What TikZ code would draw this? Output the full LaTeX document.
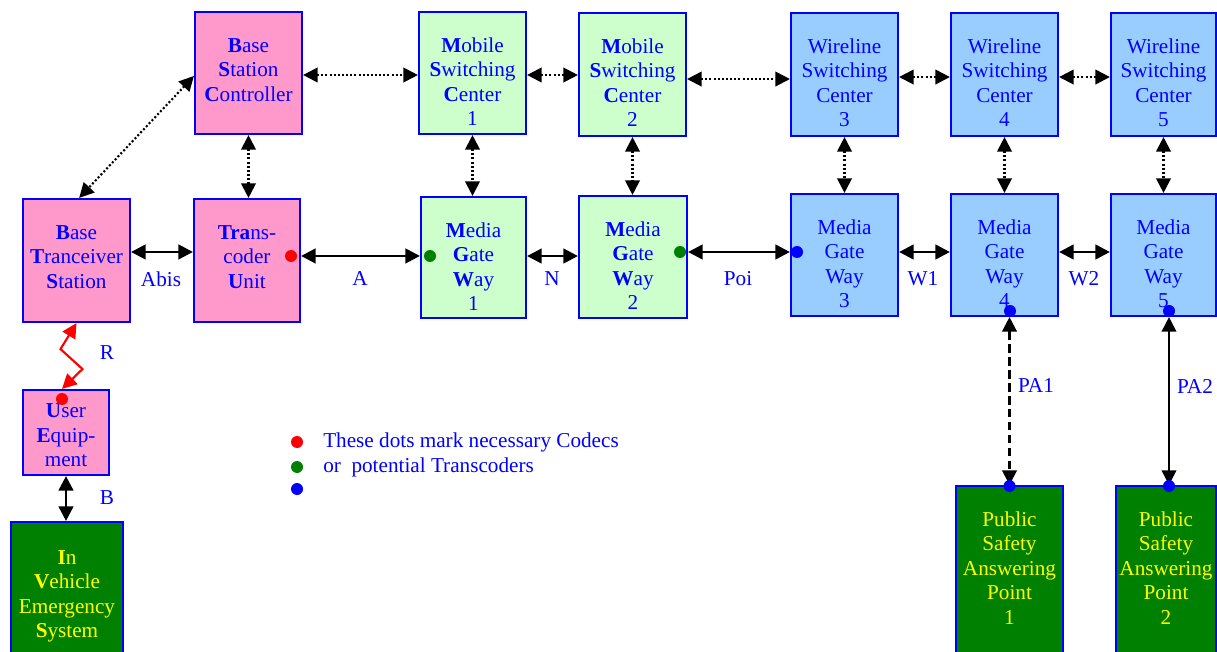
\documentclass[tikz,border=0pt]{standalone}
\usepackage{fontspec}
\setmainfont{Liberation Serif}
\usetikzlibrary{arrows.meta,calc}
\definecolor{pinkf}{HTML}{FF99CC}
\definecolor{greenf}{HTML}{CCFFCC}
\definecolor{bluef}{HTML}{99CCFF}
\definecolor{darkg}{HTML}{008000}
\definecolor{bord}{HTML}{0000FF}
\definecolor{tblue}{HTML}{0000FF}
\definecolor{tyel}{HTML}{FFFF00}
\newcommand{\mybox}[6]{%
  \node[box,fill=#6,minimum width={(#4-#2)*0.75pt},minimum height={(#5-#3)*0.75pt}] (#1) at ({(#2+#4)/2},{(#3+#5)/2}) {};}
\tikzset{
  box/.style={draw=bord,line width=1.6pt,inner sep=0pt,rectangle},
  txt/.style={align=center,inner sep=0pt,font=\fontsize{15.9}{18.4}\selectfont,text=tblue},
  ytxt/.style={txt,text=tyel},
  lbl/.style={inner sep=0pt,font=\fontsize{15.9}{18.4}\selectfont,text=tblue},
  solidarr/.style={{Triangle[length=11pt,width=11pt]}-{Triangle[length=11pt,width=11pt]},line width=2pt,black},
  dotarr/.style={solidarr,line width=1.6pt,dash pattern=on 1.5pt off 1.6pt},
  dasharr/.style={solidarr,line width=1.7pt,dash pattern=on 6.5pt off 3.2pt},
  thinarr/.style={solidarr,line width=1.4pt},
  redarr/.style={solidarr,red,line width=1.6pt},
  dot/.style={circle,fill=#1,inner sep=0pt,minimum size=9pt}
}
\begin{document}
\begin{tikzpicture}[x=0.75pt,y=-0.75pt]
\useasboundingbox (0,0) rectangle (1217,652);
% boxes
\mybox{bsc}{195}{12}{302}{134}{pinkf}
\mybox{bts}{23}{199}{130}{322}{pinkf}
\mybox{tcu}{194}{199}{300}{322}{pinkf}
\mybox{ue}{23}{390}{109}{475}{pinkf}
\mybox{msca}{419}{12}{526}{134}{greenf}
\mybox{mscb}{579}{13}{686}{136}{greenf}
\mybox{mgwa}{421}{197}{526}{318}{greenf}
\mybox{mgwb}{579}{196}{687}{318}{greenf}
\mybox{wsca}{791}{13}{898}{136}{bluef}
\mybox{wscb}{951}{13}{1058}{136}{bluef}
\mybox{wscc}{1111}{13}{1216}{136}{bluef}
\mybox{mgwc}{791}{194}{898}{316}{bluef}
\mybox{mgwd}{951}{194}{1058}{316}{bluef}
\mybox{mgwe}{1111}{194}{1216}{316}{bluef}
\mybox{ives}{11}{522}{123}{665}{darkg}
\mybox{psapa}{956}{486}{1063}{665}{darkg}
\mybox{psapb}{1116}{486}{1216}{665}{darkg}
% texts
\node[txt,anchor=north] (tbsc) at ([yshift=-18pt]bsc.north) {\strut\textbf{B}ase\\\textbf{S}tation\\\textbf{C}ontroller};
\node[txt,anchor=north] (tbts) at ([yshift=-18pt]bts.north) {\strut\textbf{B}ase\\\textbf{T}ranceiver\\\textbf{S}tation};
\node[txt,anchor=north] (ttcu) at ([yshift=-18pt]tcu.north) {\strut\textbf{Tra}ns-\\coder\\\textbf{U}nit};
\node[txt,anchor=north] (tue) at ([yshift=-8.5pt]ue.north) {\strut\textbf{U}ser\\\textbf{E}quip-\\ment};
\node[txt,anchor=north] (tmsca) at ([yshift=-18pt]msca.north) {\strut\textbf{M}obile\\\textbf{S}witching\\\textbf{C}enter\\1};
\node[txt,anchor=north] (tmscb) at ([yshift=-18pt]mscb.north) {\strut\textbf{M}obile\\\textbf{S}witching\\\textbf{C}enter\\2};
\node[txt,anchor=north] (tmgwa) at ([yshift=-18pt]mgwa.north) {\strut\textbf{M}edia\\\textbf{G}ate\\\textbf{W}ay\\1};
\node[txt,anchor=north] (tmgwb) at ([yshift=-18pt]mgwb.north) {\strut\textbf{M}edia\\\textbf{G}ate\\\textbf{W}ay\\2};
\node[txt,anchor=north] (twsca) at ([yshift=-18pt]wsca.north) {\strut Wireline\\Switching\\Center\\3};
\node[txt,anchor=north] (twscb) at ([yshift=-18pt]wscb.north) {\strut Wireline\\Switching\\Center\\4};
\node[txt,anchor=north] (twscc) at ([yshift=-18pt]wscc.north) {\strut Wireline\\Switching\\Center\\5};
\node[txt,anchor=north] (tmgwc) at ([yshift=-18pt]mgwc.north) {\strut Media\\Gate\\Way\\3};
\node[txt,anchor=north] (tmgwd) at ([yshift=-18pt]mgwd.north) {\strut Media\\Gate\\Way\\4};
\node[txt,anchor=north] (tmgwe) at ([yshift=-18pt]mgwe.north) {\strut Media\\Gate\\Way\\5};
\node[ytxt,anchor=north] (tives) at ([yshift=-19.5pt]ives.north) {\strut\textbf{I}n\\\textbf{V}ehicle\\Emergency\\\textbf{S}ystem};
\node[ytxt,anchor=north] (tpsapa) at ([yshift=-18pt]psapa.north) {\strut Public\\Safety\\Answering\\Point\\1};
\node[ytxt,anchor=north] (tpsapb) at ([yshift=-18pt]psapb.north) {\strut Public\\Safety\\Answering\\Point\\2};
% dotted connectors
\draw[dotarr] ([yshift=-1.5pt]bsc.east) -- ([yshift=-1.5pt]bsc.east -| msca.west);
\draw[dotarr] ([yshift=-1.5pt]msca.east) -- ([yshift=-1.5pt]msca.east -| mscb.west);
\draw[dotarr] ([yshift=-3.4pt]mscb.east) -- ([yshift=-3.4pt]mscb.east -| wsca.west);
\draw[dotarr] ([yshift=-1.9pt]wsca.east) -- ([yshift=-1.9pt]wsca.east -| wscb.west);
\draw[dotarr] ([yshift=-1.9pt]wscb.east) -- ([yshift=-1.9pt]wscb.east -| wscc.west);
\draw[dotarr] ([yshift=-2.25pt]bsc.west) -- ([xshift=2pt]bts.north);
\draw[dotarr] (bsc.south) -- (bsc.south |- tcu.north);
\draw[dotarr] (msca.south) -- (msca.south |- mgwa.north);
\draw[dotarr] (mscb.south) -- (mscb.south |- mgwb.north);
\draw[dotarr] (wsca.south) -- (wsca.south |- mgwc.north);
\draw[dotarr] (wscb.south) -- (wscb.south |- mgwd.north);
\draw[dotarr] (wscc.south) -- (wscc.south |- mgwe.north);
% solid connectors
\draw[solidarr] ([yshift=6.4pt]bts.east) -- ([yshift=6.4pt]bts.east -| tcu.west);
\draw[solidarr] ([yshift=3.4pt]tcu.east) -- ([yshift=3.4pt]tcu.east -| mgwa.west);
\draw[solidarr] ([yshift=1.1pt]mgwa.east) -- ([yshift=1.1pt]mgwa.east -| mgwb.west);
\draw[solidarr] ([yshift=3.75pt]mgwb.east) -- ([yshift=3.75pt]mgwb.east -| mgwc.west);
\draw[solidarr] ([yshift=2.25pt]mgwc.east) -- ([yshift=2.25pt]mgwc.east -| mgwd.west);
\draw[solidarr] ([yshift=2.25pt]mgwd.east) -- ([yshift=2.25pt]mgwd.east -| mgwe.west);
\draw[solidarr] (ue.south) -- (ue.south |- ives.north);
\draw[dasharr] (psapa.north |- mgwd.south) -- (psapa.north);
\draw[thinarr] ([xshift=2.25pt]psapb.north |- mgwe.south) -- ([xshift=2.25pt]psapb.north);
\draw[redarr] (bts.south) -- ++(-16,26) -- ++(22,20) -- ([xshift=-3pt]ue.north);
% dots
\node[dot=red] (d1) at (291,256) {};
\node[dot=red] (d2) at (62,399) {};
\node[dot=darkg] (d3) at (430,256) {};
\node[dot=darkg] (d4) at (680,252) {};
\node[dot=bord] (d5) at (797,252) {};
\node[dot=bord] (d6) at (1010,311) {};
\node[dot=bord] (d7) at (1169,311) {};
\node[dot=bord] (d8) at (1009.5,486) {};
\node[dot=bord] (d9) at (1169,486) {};
\node[dot=red] (l1) at (297,442) {};
\node[dot=darkg] (l2) at (297,467) {};
\node[dot=bord] (l3) at (297,489) {};
% labels
\node[lbl] (labis) at (161,279) {Abis};
\node[lbl] (la) at (360,279) {A};
\node[lbl] (ln) at (552,279) {N};
\node[lbl] (lpoi) at (738,279) {Poi};
\node[lbl] (lw1) at (923,279) {W1};
\node[lbl] (lw2) at (1084,279) {W2};
\node[lbl] (lr) at (107,353) {R};
\node[lbl] (lb) at (107,498) {B};
\node[lbl] (lpa1) at (1036,386) {PA1};
\node[lbl] (lpa2) at (1195,386) {PA2};
\node[lbl,anchor=west] (lega) at (323,442) {These dots mark necessary Codecs};
\node[lbl,anchor=west] (legb) at (323,467) {or\ \ potential Transcoders};
\end{tikzpicture}
\end{document}
